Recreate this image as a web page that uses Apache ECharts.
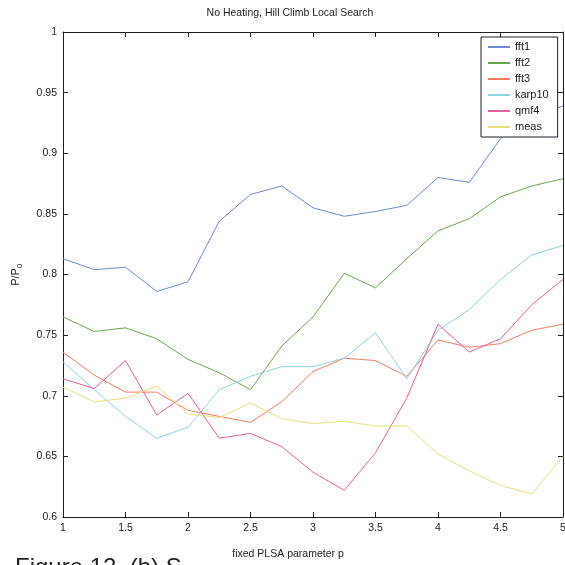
<!DOCTYPE html>
<html>
<head>
<meta charset="utf-8">
<script src="https://cdn.jsdelivr.net/npm/echarts@6/dist/echarts.min.js"></script>
<style>
  html, body { margin: 0; padding: 0; background: #fff; overflow: hidden; }
  #chart { width: 565px; height: 565px; }
</style>
</head>
<body>
<div id="chart"></div>
<script>
// PLSA parameter p on the horizontal axis
const pValues = [1, 1.25, 1.5, 1.75, 2, 2.25, 2.5, 2.75, 3, 3.25, 3.5, 3.75, 4, 4.25, 4.5, 4.75, 5];

// P/P0 for each benchmark
const fft1   = [0.813, 0.804, 0.806, 0.786, 0.794, 0.844, 0.866, 0.873, 0.855, 0.848, 0.852, 0.857, 0.880, 0.876, 0.912, 0.930, 0.939];
const fft2   = [0.765, 0.753, 0.756, 0.747, 0.730, 0.719, 0.705, 0.741, 0.765, 0.801, 0.789, 0.813, 0.836, 0.846, 0.864, 0.873, 0.879];
const fft3   = [0.736, 0.717, 0.703, 0.703, 0.688, 0.683, 0.678, 0.695, 0.720, 0.731, 0.729, 0.716, 0.746, 0.740, 0.743, 0.754, 0.759];
const karp10 = [0.728, 0.705, 0.683, 0.665, 0.674, 0.705, 0.716, 0.724, 0.724, 0.731, 0.752, 0.714, 0.754, 0.771, 0.796, 0.816, 0.824];
const qmf4   = [0.714, 0.706, 0.729, 0.684, 0.702, 0.665, 0.669, 0.658, 0.637, 0.622, 0.653, 0.698, 0.759, 0.736, 0.747, 0.775, 0.796];
const meas   = [0.707, 0.695, 0.698, 0.708, 0.685, 0.682, 0.694, 0.681, 0.677, 0.679, 0.675, 0.675, 0.652, 0.638, 0.626, 0.619, 0.650];

const seriesNames = ['fft1', 'fft2', 'fft3', 'karp10', 'qmf4', 'meas'];
const seriesData = [fft1, fft2, fft3, karp10, qmf4, meas];
const seriesColors = ['#7189d2', '#68a84e', '#f47c66', '#8fd2e0', '#e2609c', '#e8df7c'];

// Tick positions and their labels
const xTicks = [1, 1.5, 2, 2.5, 3, 3.5, 4, 4.5, 5];
const xTickLabels = ['1', '1.5', '2', '2.5', '3', '3.5', '4', '4.5', '5'];
const yTicks = [0.6, 0.65, 0.7, 0.75, 0.8, 0.85, 0.9, 0.95, 1];
const yTickLabels = ['0.6', '0.65', '0.7', '0.75', '0.8', '0.85', '0.9', '0.95', '1'];

const FONT = "'Liberation Sans', Arial, Helvetica, sans-serif";
const INK = '#1e1e2a';

function label(list, ticks) {
  return function (v) {
    for (let i = 0; i < ticks.length; i++) {
      if (Math.abs(ticks[i] - v) < 1e-9) return list[i];
    }
    return '';
  };
}

function makeAxis(kind, pos, withLabels) {
  const isX = kind === 'x';
  const ticks = isX ? xTicks : yTicks;
  return {
    type: 'value',
    position: pos,
    min: isX ? 1 : 0.6,
    max: isX ? 5 : 1,
    interval: isX ? 0.5 : 0.05,
    axisLine: { show: true, onZero: false, lineStyle: { color: INK, width: 1 } },
    axisTick: { show: true, inside: true, length: 5, customValues: ticks, lineStyle: { color: INK } },
    axisLabel: {
      show: withLabels,
      customValues: ticks,
      formatter: label(isX ? xTickLabels : yTickLabels, ticks),
      margin: isX ? 6 : 6,
      color: '#222',
      fontFamily: FONT,
      fontSize: 10.5,
      hideOverlap: false
    },
    splitLine: { show: false }
  };
}

const chart = echarts.init(document.getElementById('chart'), null, { renderer: 'canvas' });

chart.setOption({
  animation: false,
  backgroundColor: '#fff',
  grid: { left: 63, right: 2, top: 32, bottom: 48, containLabel: false, outerBoundsMode: 'none' },
  xAxis: [makeAxis('x', 'bottom', true), makeAxis('x', 'top', false)],
  yAxis: [makeAxis('y', 'left', true), makeAxis('y', 'right', false)],
  legend: {
    orient: 'vertical',
    left: 481,
    top: 37,
    padding: [3, 9, 3, 7],
    itemGap: 2,
    itemWidth: 22,
    itemHeight: 2,
    itemTextGap: 6,
    icon: 'rect',
    backgroundColor: '#fff',
    borderColor: INK,
    borderWidth: 1,
    borderRadius: 0,
    textStyle: { fontFamily: FONT, fontSize: 11, color: '#222', lineHeight: 14 },
    data: seriesNames
  },
  series: seriesNames.map(function (name, i) {
    return {
      name: name,
      type: 'line',
      xAxisIndex: 0,
      yAxisIndex: 0,
      data: pValues.map(function (p, j) { return [p, seriesData[i][j]]; }),
      symbol: 'none',
      lineStyle: { width: 1, color: seriesColors[i] },
      itemStyle: { color: seriesColors[i] },
      z: 2
    };
  }),
  graphic: [
    {
      type: 'text',
      x: 290, y: 13,
      style: {
        text: 'No Heating, Hill Climb Local Search',
        fontFamily: FONT, fontSize: 10.5, fill: '#222',
        align: 'center', verticalAlign: 'middle'
      }
    },
    {
      type: 'text',
      x: 288, y: 554,
      style: {
        text: 'fixed PLSA parameter p',
        fontFamily: FONT, fontSize: 10.5, fill: '#222',
        align: 'center', verticalAlign: 'middle'
      }
    },
    {
      type: 'text',
      x: 16, y: 277,
      rotation: Math.PI / 2,
      style: {
        text: 'P/P',
        fontFamily: FONT, fontSize: 11, fill: '#222',
        align: 'center', verticalAlign: 'middle'
      }
    },
    {
      type: 'text',
      x: 20, y: 266,
      rotation: Math.PI / 2,
      style: {
        text: '0',
        fontFamily: FONT, fontSize: 8, fill: '#222',
        align: 'center', verticalAlign: 'middle'
      }
    },
    {
      type: 'text',
      x: 15, y: 556,
      style: {
        text: 'Figure 12. (b) S',
        fontFamily: FONT, fontSize: 24, fill: '#222',
        align: 'left', verticalAlign: 'top'
      }
    }
  ]
});
</script>
</body>
</html>
